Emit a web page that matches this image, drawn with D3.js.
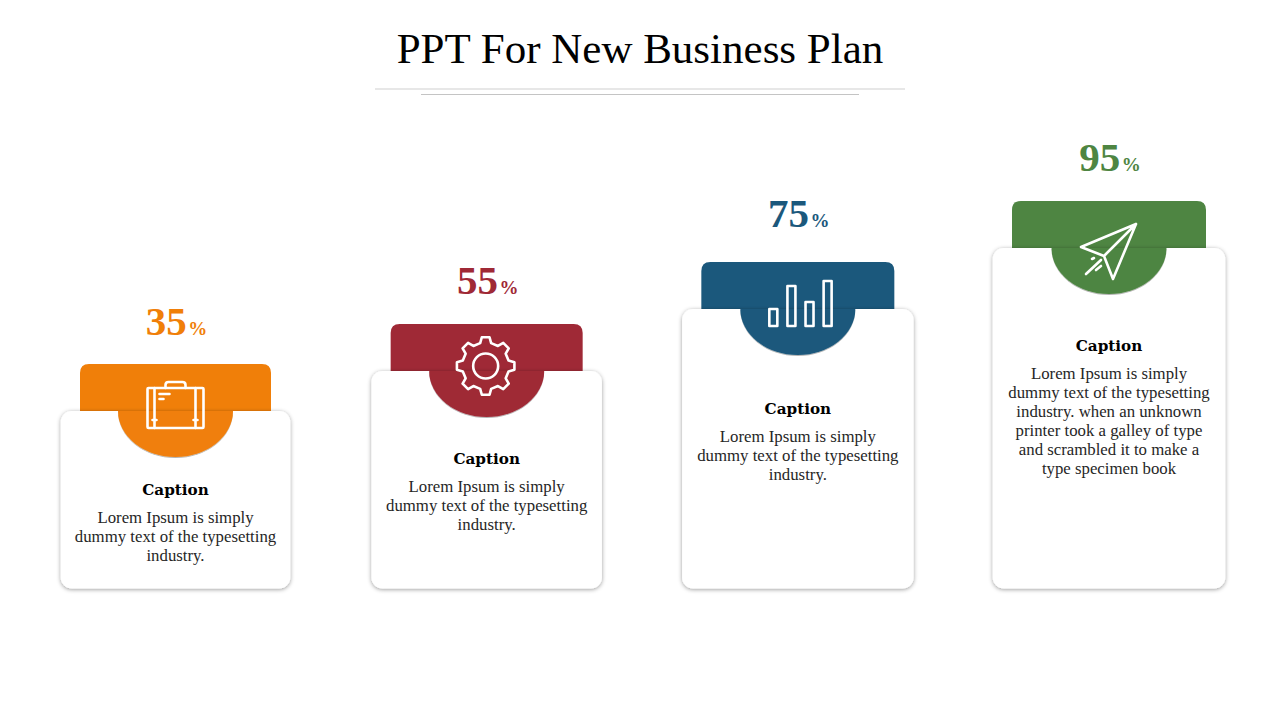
<!DOCTYPE html>
<html>
<head>
<meta charset="utf-8">
<title>PPT For New Business Plan</title>
<script src="https://cdn.jsdelivr.net/npm/d3@7"></script>
<style>
  html, body { margin: 0; padding: 0; background: #fff; }
  svg { display: block; }
</style>
</head>
<body>
<svg id="chart" width="1280" height="720"></svg>
<script>
const title = "PPT For New Business Plan";
const steps = ["briefcase", "gear", "bars", "plane"];
const percents = [35, 55, 75, 95];
const colors = ["#f07f09", "#9f2936", "#1b587c", "#4e8542"];
const captions = ["Caption", "Caption", "Caption", "Caption"];
const bodyLines = [
  ["Lorem Ipsum is simply", "dummy text of the typesetting", "industry."],
  ["Lorem Ipsum is simply", "dummy text of the typesetting", "industry."],
  ["Lorem Ipsum is simply", "dummy text of the typesetting", "industry."],
  ["Lorem Ipsum is simply", "dummy text of the typesetting", "industry. when an unknown", "printer took a galley of type", "and scrambled it to make a", "type specimen book"]
];
const iconBarValues = [17, 40, 24, 45];

const svg = d3.select("#chart");

const x = d3.scalePoint().domain(steps).range([175.5, 1109]);
// the card tops are not evenly spaced in the slide, so the scale is piecewise
const cardTop = d3.scaleLinear().domain(percents).range([411, 371, 309, 248]);
const cardBottom = 588.5;
const cardWidth = d3.scaleLinear().domain([35, 95]).range([229.5, 232.5]);
const tabWidth = d3.scaleLinear().domain([35, 95]).range([191, 194]);

const defs = svg.append("defs");
const cardShadow = defs.append("filter").attr("id", "cardShadow")
  .attr("x", "-10%").attr("y", "-10%").attr("width", "120%").attr("height", "120%");
cardShadow.append("feDropShadow").attr("dx", 0).attr("dy", 1)
  .attr("stdDeviation", 2.2).attr("flood-color", "#000").attr("flood-opacity", 0.4);
const capShadow = defs.append("filter").attr("id", "capShadow")
  .attr("x", "-10%").attr("y", "-10%").attr("width", "120%").attr("height", "120%");
capShadow.append("feDropShadow").attr("dx", 0).attr("dy", 1)
  .attr("stdDeviation", 0.7).attr("flood-color", "#000").attr("flood-opacity", 0.3);

// title and the two rules under it
svg.append("text")
  .attr("x", 640).attr("y", 63)
  .attr("text-anchor", "middle")
  .style("font-family", "'Liberation Serif'")
  .style("font-size", "43px")
  .style("fill", "#000")
  .text(title);
svg.append("line").attr("x1", 375).attr("x2", 905).attr("y1", 89).attr("y2", 89)
  .attr("stroke", "#cfcfcf").attr("stroke-width", 1);
svg.append("line").attr("x1", 421).attr("x2", 859).attr("y1", 94.5).attr("y2", 94.5)
  .attr("stroke", "#c4c4c4").attr("stroke-width", 1);

const rows = steps.map((s, i) => ({
  step: s, percent: percents[i], color: colors[i], caption: captions[i], lines: bodyLines[i]
}));

const group = svg.selectAll("g.step").data(rows).join("g")
  .attr("class", "step")
  .attr("transform", d => `translate(${x(d.step)},${cardTop(d.percent)})`);

// coloured tab sticking out behind the card
group.append("path")
  .attr("fill", d => d.color)
  .attr("d", d => {
    const w = tabWidth(d.percent) / 2;
    const p = d3.path();
    p.moveTo(-w, 2);
    p.lineTo(-w, -38);
    p.quadraticCurveTo(-w, -47, -w + 9, -47);
    p.lineTo(w - 9, -47);
    p.quadraticCurveTo(w, -47, w, -38);
    p.lineTo(w, 2);
    p.closePath();
    return p.toString();
  });

group.append("rect")
  .attr("x", d => -cardWidth(d.percent) / 2)
  .attr("y", 0)
  .attr("width", d => cardWidth(d.percent))
  .attr("height", d => cardBottom - cardTop(d.percent))
  .attr("rx", 11)
  .attr("fill", "#fff")
  .attr("filter", "url(#cardShadow)");

// half round cap hanging over the card
group.append("path")
  .attr("fill", d => d.color)
  .attr("filter", "url(#capShadow)")
  .attr("d", "M-57.5,0 A57.5,46 0 0 0 57.5,0 Z");

// percent label
const labelGap = d3.scaleOrdinal().domain(percents).range([76, 77, 82, 77]);
const label = group.append("text")
  .attr("x", 1)
  .attr("y", d => -labelGap(d.percent))
  .attr("text-anchor", "middle")
  .style("font-family", "'Liberation Serif'")
  .style("font-weight", "bold")
  .style("fill", d => d.color);
label.append("tspan").style("font-size", "41px").text(d => d.percent);
label.append("tspan").attr("dx", 1.5).style("font-size", "19px").text("%");

// caption and body
const captionGap = d3.scaleOrdinal().domain(percents).range([84, 93, 105, 103]);
group.append("text")
  .attr("y", d => captionGap(d.percent))
  .attr("text-anchor", "middle")
  .style("font-family", "'DejaVu Serif'")
  .style("font-weight", "bold")
  .style("font-size", "15.2px")
  .style("fill", "#000")
  .text(d => d.caption);

group.append("text")
  .attr("text-anchor", "middle")
  .style("font-family", "'Liberation Serif'")
  .style("font-size", "16.8px")
  .style("fill", "#262626")
  .each(function (d) {
    const text = d3.select(this);
    d.lines.forEach((line, i) => {
      text.append("tspan")
        .attr("x", 0)
        .attr("y", captionGap(d.percent) + 28 + i * 19)
        .text(line);
    });
  });

// icons, drawn around the middle of the cap
const iconOffset = d3.scaleOrdinal().domain(steps).range([[0, -6], [-1, -5], [0, -6], [0, 4]]);
const icon = group.append("g")
  .attr("transform", d => `translate(${iconOffset(d.step)})`)
  .attr("fill", "none")
  .attr("stroke", "#fff")
  .attr("stroke-width", 2.6)
  .attr("stroke-linejoin", "round")
  .attr("stroke-linecap", "round");

const briefcase = icon.filter(d => d.step === "briefcase");
briefcase.append("rect").attr("x", -28).attr("y", -17).attr("width", 56).attr("height", 40).attr("rx", 1);
briefcase.append("path").attr("d", "M-10,-17 V-20 Q-10,-23 -7,-23 H7 Q10,-23 10,-20 V-17");
briefcase.append("path").attr("d", "M-21,-17 V23 M20,-17 V23 M-23,15 H-19 M18,15 H22");
briefcase.append("path").attr("d", "M-16,-11 H-6 M-16,-6 H-12");

const gear = icon.filter(d => d.step === "gear");
const gearTeeth = 8;
const gearPoints = d3.range(gearTeeth).flatMap(t => {
  const a = t / gearTeeth * 2 * Math.PI;
  const w = 2 * Math.PI / gearTeeth;
  return [
    [a - w * 0.30, 23.5], [a - w * 0.17, 29], [a + w * 0.17, 29], [a + w * 0.30, 23.5]
  ];
});
gear.append("path").attr("d", d3.lineRadial().curve(d3.curveLinearClosed)(gearPoints));
gear.append("circle").attr("r", 12.5);

const bars = icon.filter(d => d.step === "bars");
const barX = d3.scaleBand().domain(d3.range(iconBarValues.length)).range([-28.5, 28.5]).paddingInner(0.85);
const barY = d3.scaleLinear().domain([0, 45]).range([23, -22]);
bars.selectAll("rect").data(iconBarValues).join("rect")
  .attr("x", (v, i) => barX(i))
  .attr("y", v => barY(v))
  .attr("width", 8)
  .attr("height", v => barY(0) - barY(v));

const plane = icon.filter(d => d.step === "plane");
plane.append("path").attr("d", "M27,-28 L-28,-5 L-5,4 L4,27 Z M27,-28 L-5,4");
plane.append("path").attr("d", "M-23,22 L-8,8 M-13,18 L-8,14 M-17,7 L-15,6");
</script>
</body>
</html>
